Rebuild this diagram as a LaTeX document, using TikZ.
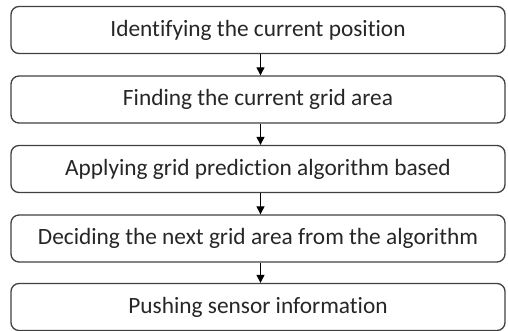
\documentclass[tikz,border=0pt]{standalone}
\usepackage{fontspec}
\setmainfont{Carlito}[Ligatures={NoCommon}]
\usetikzlibrary{arrows.meta}

\tikzset{
	stepbox/.style={draw=black!75, line width=1pt, rounded corners=6pt, minimum width=494*0.75pt, minimum height=47*0.75pt, inner sep=0pt, font=\fontsize{17.5}{20}\selectfont, text=black!85},
	flow/.style={draw=black, line width=0.8pt, -{Triangle[length=6pt,width=6pt]}}
}

\begin{document}
\begin{tikzpicture}[x=0.75pt,y=0.75pt,yscale=-1,xscale=1]

	\useasboundingbox (0,0) rectangle (508,331);

	\node [stepbox] (ident) at (258,30) {Identifying the current position};
	\node [stepbox] (find) at (258,99.5) {Finding the current grid area};
	\node [stepbox] (apply) at (258,169) {Applying grid prediction algorithm based};
	\node [stepbox] (decide) at (258,238.5) {Deciding the next grid area from the algorithm};
	\node [stepbox] (push) at (258,307) {Pushing sensor information};

	\draw [flow] (ident.south) ++(2.5,0) coordinate (a1) -- (a1 |- find.north);
	\draw [flow] (find.south) ++(2.5,0) coordinate (a2) -- (a2 |- apply.north);
	\draw [flow] (apply.south) ++(2.5,0) coordinate (a3) -- (a3 |- decide.north);
	\draw [flow] (decide.south) ++(2.5,0) coordinate (a4) -- (a4 |- push.north);

\end{tikzpicture}
\end{document}
